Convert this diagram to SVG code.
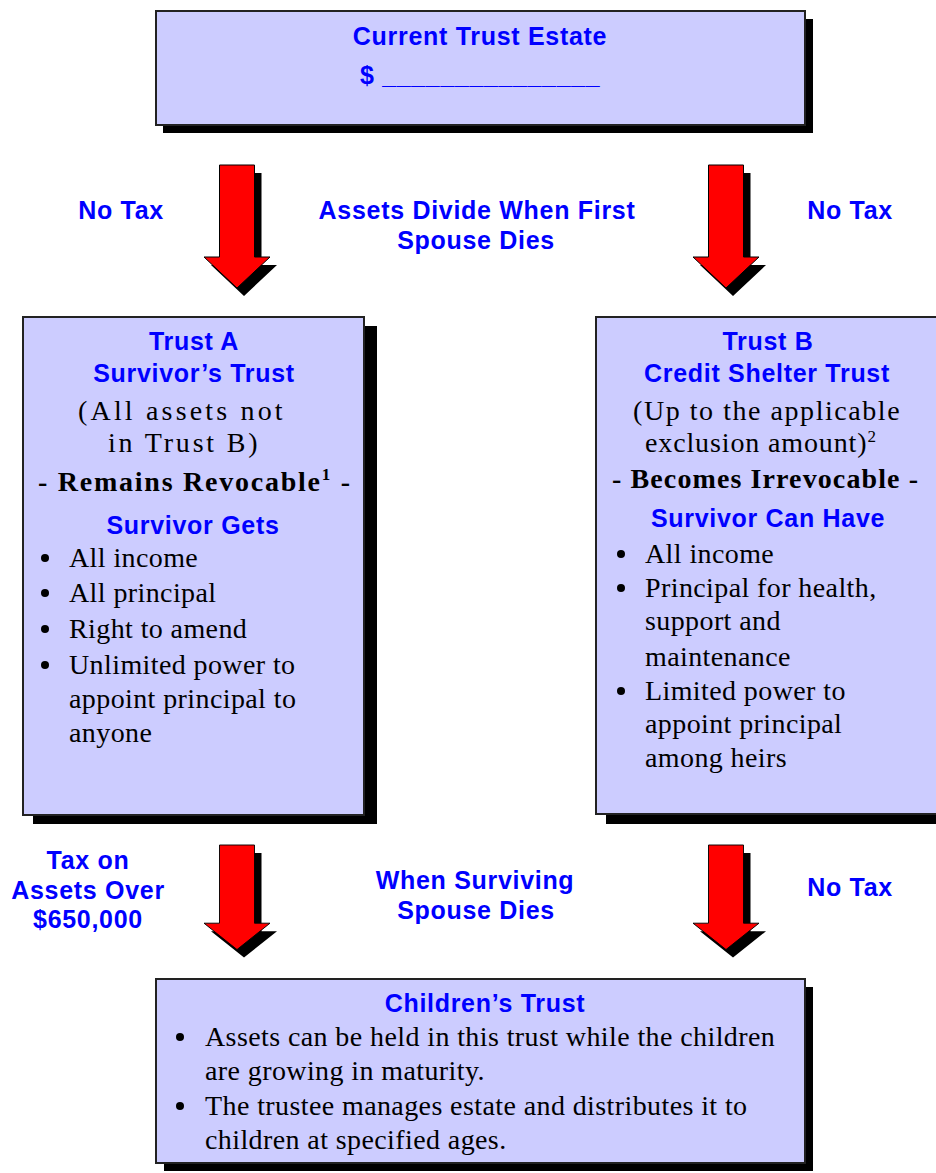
<svg xmlns="http://www.w3.org/2000/svg" width="936" height="1173" viewBox="0 0 936 1173">
<defs>
<style>
.box{fill:#CCCCFF;stroke:#222;stroke-width:2}
.shd{fill:#000}
.arr{fill:#FF0000;stroke:#000;stroke-width:1}
.ash{fill:#000}
.h{font-family:"Liberation Sans",Arial,sans-serif;font-weight:bold;font-size:25px;fill:#0000FF;letter-spacing:0.7px}
.s{font-family:"Liberation Serif","Times New Roman",serif;font-size:28px;fill:#000;letter-spacing:0.4px}
.sb{font-family:"Liberation Serif","Times New Roman",serif;font-size:28px;font-weight:bold;fill:#000}
.c{text-anchor:middle}
</style>
<path id="arrowUp" d="M-17.5,0 H17.5 V92 H33 L0,123 L-33,92 H-17.5 Z"/>
</defs>
<rect width="936" height="1173" fill="#fff"/>

<g id="connectors">
  <g id="arrow-a">
    <use href="#arrowUp" class="ash" transform="translate(244,173)"/>
    <use href="#arrowUp" class="arr" transform="translate(237,165)"/>
  </g>
  <g id="arrow-b">
    <use href="#arrowUp" class="ash" transform="translate(733,173)"/>
    <use href="#arrowUp" class="arr" transform="translate(726,165)"/>
  </g>
  <g id="arrow-c">
    <use href="#arrowUp" class="ash" transform="translate(244,853) scale(1,0.85)"/>
    <use href="#arrowUp" class="arr" transform="translate(237,845) scale(1,0.85)"/>
  </g>
  <g id="arrow-d">
    <use href="#arrowUp" class="ash" transform="translate(733,853) scale(1,0.85)"/>
    <use href="#arrowUp" class="arr" transform="translate(726,845) scale(1,0.85)"/>
  </g>
  <text class="h c" x="121" y="219">No Tax</text>
  <text class="h c" x="477" y="219">Assets Divide When First</text>
  <text class="h c" x="476" y="249">Spouse Dies</text>
  <text class="h c" x="850" y="219">No Tax</text>
  <text class="h c" x="88" y="869">Tax on</text>
  <text class="h c" x="88" y="899">Assets Over</text>
  <text class="h c" x="88" y="928">$650,000</text>
  <text class="h c" x="475" y="889">When Surviving</text>
  <text class="h c" x="476" y="919">Spouse Dies</text>
  <text class="h c" x="850" y="896">No Tax</text>
</g>

<g id="current-trust-estate">
  <rect class="shd" x="163" y="19" width="650" height="114"/>
  <rect class="box" x="156" y="11" width="649" height="114"/>
  <text class="h c" x="480" y="45">Current Trust Estate</text>
  <text class="h" x="360" y="84">$ <tspan textLength="218" lengthAdjust="spacingAndGlyphs">_______________</tspan></text>
</g>

<g id="trust-a">
  <rect class="shd" x="33" y="326" width="344" height="498"/>
  <rect class="box" x="23" y="317" width="341" height="498"/>
  <text class="h c" x="194" y="350">Trust A</text>
  <text class="h c" x="194" y="382">Survivor’s Trust</text>
  <text class="s" x="78" y="420" textLength="205" lengthAdjust="spacing">(All assets not</text>
  <text class="s" x="108" y="452" textLength="150" lengthAdjust="spacing">in Trust B)</text>
  <text class="sb" x="38" y="491" textLength="312" lengthAdjust="spacing">- Remains Revocable<tspan font-size="17" dy="-11">1</tspan><tspan dy="11"> -</tspan></text>
  <text class="h c" x="193" y="534">Survivor Gets</text>
  <g fill="#000"><circle cx="45" cy="558" r="4"/><circle cx="45" cy="593" r="4"/><circle cx="45" cy="629" r="4"/><circle cx="45" cy="665" r="4"/></g>
  <text class="s" x="69" y="567">All income</text>
  <text class="s" x="69" y="602">All principal</text>
  <text class="s" x="69" y="638">Right to amend</text>
  <text class="s" x="69" y="674">Unlimited power to</text>
  <text class="s" x="69" y="708">appoint principal to</text>
  <text class="s" x="69" y="742">anyone</text>
</g>

<g id="trust-b">
  <rect class="shd" x="606" y="326" width="350" height="498"/>
  <rect class="box" x="596" y="317" width="350" height="497"/>
  <text class="h c" x="768" y="350">Trust B</text>
  <text class="h c" x="767" y="382">Credit Shelter Trust</text>
  <text class="s" x="633" y="420" textLength="267" lengthAdjust="spacing">(Up to the applicable</text>
  <text class="s" x="645" y="452"><tspan textLength="222" lengthAdjust="spacing">exclusion amount)</tspan><tspan font-size="17" dy="-10">2</tspan></text>
  <text class="sb" x="612" y="488" textLength="306" lengthAdjust="spacing">- Becomes Irrevocable -</text>
  <text class="h c" x="768" y="527">Survivor Can Have</text>
  <g fill="#000"><circle cx="621" cy="554" r="4"/><circle cx="621" cy="588" r="4"/><circle cx="621" cy="691" r="4"/></g>
  <text class="s" x="645" y="563">All income</text>
  <text class="s" x="645" y="597">Principal for health,</text>
  <text class="s" x="645" y="630">support and</text>
  <text class="s" x="645" y="666">maintenance</text>
  <text class="s" x="645" y="700">Limited power to</text>
  <text class="s" x="645" y="733">appoint principal</text>
  <text class="s" x="645" y="767">among heirs</text>
</g>

<g id="childrens-trust">
  <rect class="shd" x="164" y="987" width="649" height="184"/>
  <rect class="box" x="156" y="979" width="649" height="184"/>
  <text class="h c" x="485" y="1012">Children’s Trust</text>
  <g fill="#000"><circle cx="180" cy="1037" r="4"/><circle cx="180" cy="1106" r="4"/></g>
  <text class="s" x="205" y="1046">Assets can be held in this trust while the children</text>
  <text class="s" x="205" y="1080">are growing in maturity.</text>
  <text class="s" x="205" y="1115">The trustee manages estate and distributes it to</text>
  <text class="s" x="205" y="1149">children at specified ages.</text>
</g>
</svg>
